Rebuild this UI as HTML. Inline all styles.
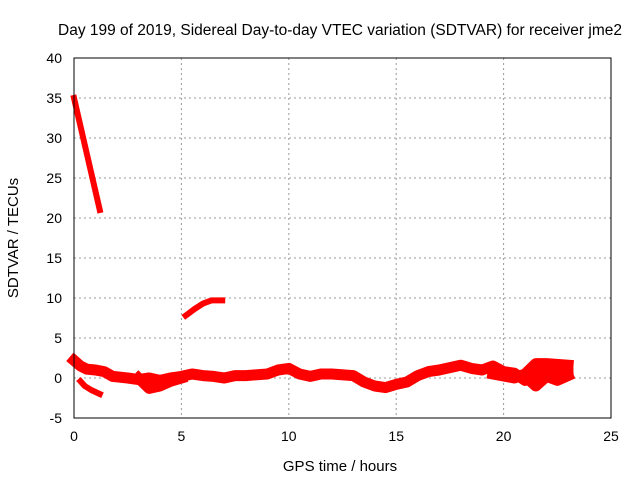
<!DOCTYPE html>
<html><head><meta charset="utf-8"><style>
body{margin:0;background:#fff}
svg text{font-family:"Liberation Sans",sans-serif;font-size:14px;fill:#000}
</style></head><body>
<svg id="c" width="640" height="480">
<rect width="640" height="480" fill="#fff"/>
<g id="grid"></g><g id="ticks"></g><g id="data"></g>
<rect x="74" y="58" width="537" height="360" fill="none" stroke="#000" stroke-width="1"/>
<text x="340" y="35" text-anchor="middle" style="font-size:15.5px">Day 199 of 2019, Sidereal Day-to-day VTEC variation (SDTVAR) for receiver jme2</text>
<text x="340" y="471" text-anchor="middle" style="font-size:15px">GPS time / hours</text>
<text transform="translate(18,238) rotate(-90)" text-anchor="middle" style="font-size:15px">SDTVAR / TECUs</text>
</svg>
<script>
const xTicks=[0,5,10,15,20,25];
const yTicks=[-5,0,5,10,15,20,25,30,35,40];
const traceSteep=[[0,35],[0.6,28],[1.2,21]];
const traceMid=[[5.2,7.8],[5.6,8.6],[6,9.3],[6.4,9.7],[6.9,9.7]];
const traceLow=[[0.3,-0.4],[0.5,-1],[0.8,-1.5],[1.2,-2]];
const traceMain=[[0,2.2],[0.3,1.5],[0.6,1.1],[1,1],[1.4,0.8],[1.8,0.2],[2.5,0],[3,-0.2],[3.5,0],[4,-0.3],[4.5,0],[5,0.2],[5.5,0.5],[6,0.3],[6.5,0.2],[7,0],[7.5,0.3],[8,0.3],[9,0.5],[9.5,1],[10,1.2],[10.5,0.5],[11,0.2],[11.5,0.5],[12,0.5],[13,0.3],[13.5,-0.5],[14,-1],[14.5,-1.2],[15,-0.8],[15.5,-0.5],[16,0.3],[16.5,0.8],[17,1],[17.5,1.3],[18,1.6],[18.5,1.2],[19,1],[19.5,1.5],[20,0.8],[20.5,0.6],[21,-0.3],[21.5,0.5],[22,0.5],[23,0.6]];
const traceUpper=[[19.5,0.5],[20.5,0],[21,0.5],[21.5,1.8],[22,1.8],[23,1.6]];
const traceLower=[[21,0.2],[21.5,-1],[22,0.2],[22.5,-0.3],[23,0.3]];
const traceDip=[[3,0],[3.5,-1.3],[4,-1],[4.5,-0.4],[5,0]];
const traces=[traceSteep,traceMid,traceLow,traceMain,traceUpper,traceLower,traceDip];
const X=v=>74+v*537/25, Y=v=>418-(v+5)*8;
const ns='http://www.w3.org/2000/svg';
const mk=(t,a,p)=>{const e=document.createElementNS(ns,t);for(const k in a)e.setAttribute(k,a[k]);document.getElementById(p).appendChild(e);return e;};
xTicks.forEach(t=>{
 if(t>0&&t<25){const g=mk('line',{x1:X(t),x2:X(t),y1:58,y2:418,stroke:'#999','stroke-dasharray':'2,3'},'grid');
 
 }
 const l=mk('text',{x:X(t),y:441,'text-anchor':'middle'},'ticks');l.textContent=t;
 
 
});
yTicks.forEach(t=>{
 if(t>-5&&t<40){const g=mk('line',{x1:74,x2:611,y1:Y(t),y2:Y(t),stroke:'#999','stroke-dasharray':'2,3'},'grid');
 
 }
 const l=mk('text',{x:62,y:Y(t)+5,'text-anchor':'end'},'ticks');l.textContent=t;
 
 
});
traces.forEach((tr,i)=>{
 const w=(i<3)?6:11;
 const p=mk('polyline',{points:tr.map(d=>X(d[0])+','+Y(d[1])).join(' '),fill:'none',stroke:'#f00','stroke-width':w,'stroke-linejoin':'round','stroke-linecap':'square'},'data');
 
 
});
</script>
</body></html>
